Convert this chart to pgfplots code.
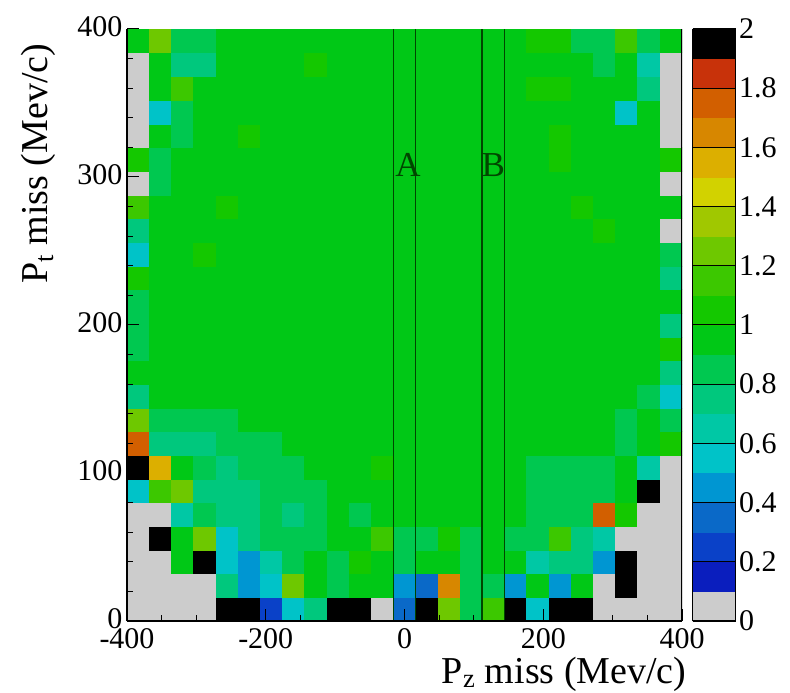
\documentclass[border=0pt]{standalone}
\usepackage{fontspec}
\setmainfont{Liberation Serif}
\usepackage{pgfplots}
\pgfplotsset{compat=1.18}
\definecolor{abline}{RGB}{0,70,0}
\newcommand{\tickfont}{\fontsize{30bp}{32bp}\selectfont}
\newcommand{\titlefont}{\fontsize{38bp}{42bp}\selectfont}
\begin{document}
\begin{tikzpicture}
\path[use as bounding box] (0,0) rectangle (790bp,693bp);
\begin{axis}[
  at={(127bp,72bp)}, anchor=south west,
  scale only axis, width=555bp, height=592bp,
  xmin=-400, xmax=400, ymin=0, ymax=400,
  axis x line*=bottom, axis y line*=left,
  axis line style={-, line width=1.5bp},
  xtick={-400,-200,0,200,400}, xticklabels={-400,-200,0,200,400},
  minor xtick={-350,-300,-250,-150,-100,-50,50,100,150,250,300,350},
  ytick={0,100,200,300,400}, yticklabels={0,100,200,300,400},
  minor ytick={20,40,60,80,120,140,160,180,220,240,260,280,320,340,360,380},
  tick align=inside, major tick length=12bp, minor tick length=6bp,
  tick style={black, line width=1bp},
  ticklabel style={font=\tickfont},
  xticklabel style={yshift=-4bp},
  yticklabel style={xshift=-1bp, yshift=2bp},
  xlabel={P\textsubscript{z} miss (Mev/c)},
  ylabel={P\textsubscript{t} miss (Mev/c)},
  label style={font=\titlefont},
  xlabel style={at={(axis description cs:1.0144,-0.1064)}, anchor=base east},
  ylabel style={at={(axis description cs:-0.144,0.981)}, anchor=base east},
  colormap={rootpal}{
    rgb255=(204,204,204) rgb255=(10,30,190) rgb255=(10,65,200) rgb255=(10,105,200)
    rgb255=(0,150,210) rgb255=(0,195,200) rgb255=(0,200,165) rgb255=(0,200,125)
    rgb255=(0,200,80) rgb255=(0,200,22) rgb255=(20,200,0) rgb255=(60,200,0)
    rgb255=(110,200,0) rgb255=(160,200,0) rgb255=(210,210,0) rgb255=(220,175,0)
    rgb255=(215,135,0) rgb255=(210,95,0) rgb255=(200,50,10) rgb255=(0,0,0)},
  colormap access=piecewise constant,
  point meta min=0, point meta max=2,
  colorbar,
  colorbar style={
    at={(parent axis.south east)}, anchor=south west, xshift=2bp,
    width=43bp,
    ytick={0,0.2,0.4,0.6,0.8,1,1.2,1.4,1.6,1.8,2},
    yticklabels={0,0.2,0.4,0.6,0.8,1,1.2,1.4,1.6,1.8,2},
    yticklabel style={font=\tickfont},
    major tick length=0pt,
    ymajorgrids, major grid style={black, line width=1bp},
    axis on top,
  },
  axis on top,
]
\addplot[matrix plot*, mesh/cols=25, mesh/rows=25, point meta=explicit] coordinates {
(-384,8)[0] (-352,8)[0] (-320,8)[0] (-288,8)[0] (-256,8)[2.5] (-224,8)[2.5] (-192,8)[0.25] (-160,8)[0.55] (-128,8)[0.75] (-96,8)[2.5] (-64,8)[2.5] (-32,8)[0] (0,8)[0.35] (32,8)[2.5] (64,8)[1.25] (96,8)[0.85] (128,8)[1.15] (160,8)[2.5] (192,8)[0.55] (224,8)[2.5] (256,8)[2.5] (288,8)[0] (320,8)[0] (352,8)[0] (384,8)[0]
(-384,24)[0] (-352,24)[0] (-320,24)[0] (-288,24)[0] (-256,24)[0.75] (-224,24)[0.45] (-192,24)[0.55] (-160,24)[1.25] (-128,24)[0.95] (-96,24)[0.85] (-64,24)[0.95] (-32,24)[0.95] (0,24)[0.45] (32,24)[0.35] (64,24)[1.65] (96,24)[0.85] (128,24)[0.85] (160,24)[0.45] (192,24)[0.95] (224,24)[0.45] (256,24)[0.95] (288,24)[0] (320,24)[2.5] (352,24)[0] (384,24)[0]
(-384,40)[0] (-352,40)[0] (-320,40)[0.95] (-288,40)[2.5] (-256,40)[0.55] (-224,40)[0.45] (-192,40)[0.65] (-160,40)[0.85] (-128,40)[0.95] (-96,40)[0.85] (-64,40)[1.05] (-32,40)[0.95] (0,40)[0.85] (32,40)[0.95] (64,40)[0.95] (96,40)[0.85] (128,40)[0.95] (160,40)[0.95] (192,40)[0.65] (224,40)[0.75] (256,40)[0.75] (288,40)[0.45] (320,40)[2.5] (352,40)[0] (384,40)[0]
(-384,56)[0] (-352,56)[2.5] (-320,56)[0.95] (-288,56)[1.25] (-256,56)[0.55] (-224,56)[0.75] (-192,56)[0.85] (-160,56)[0.85] (-128,56)[0.85] (-96,56)[0.95] (-64,56)[0.95] (-32,56)[1.15] (0,56)[0.85] (32,56)[0.85] (64,56)[1.05] (96,56)[0.85] (128,56)[0.95] (160,56)[0.85] (192,56)[0.85] (224,56)[1.15] (256,56)[0.75] (288,56)[0.65] (320,56)[0] (352,56)[0] (384,56)[0]
(-384,72)[0] (-352,72)[0] (-320,72)[0.65] (-288,72)[0.85] (-256,72)[0.75] (-224,72)[0.75] (-192,72)[0.85] (-160,72)[0.75] (-128,72)[0.85] (-96,72)[0.95] (-64,72)[0.85] (-32,72)[0.95] (0,72)[0.95] (32,72)[0.95] (64,72)[0.95] (96,72)[0.95] (128,72)[0.95] (160,72)[0.95] (192,72)[0.85] (224,72)[0.85] (256,72)[0.85] (288,72)[1.75] (320,72)[1.05] (352,72)[0] (384,72)[0]
(-384,88)[0.55] (-352,88)[1.15] (-320,88)[1.25] (-288,88)[0.75] (-256,88)[0.75] (-224,88)[0.75] (-192,88)[0.85] (-160,88)[0.85] (-128,88)[0.85] (-96,88)[0.95] (-64,88)[0.95] (-32,88)[0.95] (0,88)[0.95] (32,88)[0.95] (64,88)[0.95] (96,88)[0.95] (128,88)[0.95] (160,88)[0.95] (192,88)[0.85] (224,88)[0.85] (256,88)[0.85] (288,88)[0.85] (320,88)[0.95] (352,88)[2.5] (384,88)[0]
(-384,104)[2.5] (-352,104)[1.55] (-320,104)[0.95] (-288,104)[0.85] (-256,104)[0.75] (-224,104)[0.85] (-192,104)[0.85] (-160,104)[0.85] (-128,104)[0.95] (-96,104)[0.95] (-64,104)[0.95] (-32,104)[1.05] (0,104)[0.95] (32,104)[0.95] (64,104)[0.95] (96,104)[0.95] (128,104)[0.95] (160,104)[0.95] (192,104)[0.85] (224,104)[0.85] (256,104)[0.85] (288,104)[0.85] (320,104)[0.95] (352,104)[0.65] (384,104)[0]
(-384,120)[1.75] (-352,120)[0.75] (-320,120)[0.75] (-288,120)[0.75] (-256,120)[0.85] (-224,120)[0.85] (-192,120)[0.85] (-160,120)[0.95] (-128,120)[0.95] (-96,120)[0.95] (-64,120)[0.95] (-32,120)[0.95] (0,120)[0.95] (32,120)[0.95] (64,120)[0.95] (96,120)[0.95] (128,120)[0.95] (160,120)[0.95] (192,120)[0.95] (224,120)[0.95] (256,120)[0.95] (288,120)[0.95] (320,120)[0.85] (352,120)[0.95] (384,120)[1.05]
(-384,136)[1.25] (-352,136)[0.85] (-320,136)[0.85] (-288,136)[0.85] (-256,136)[0.85] (-224,136)[0.95] (-192,136)[0.95] (-160,136)[0.95] (-128,136)[0.95] (-96,136)[0.95] (-64,136)[0.95] (-32,136)[0.95] (0,136)[0.95] (32,136)[0.95] (64,136)[0.95] (96,136)[0.95] (128,136)[0.95] (160,136)[0.95] (192,136)[0.95] (224,136)[0.95] (256,136)[0.95] (288,136)[0.95] (320,136)[0.85] (352,136)[0.95] (384,136)[0.85]
(-384,152)[0.75] (-352,152)[0.95] (-320,152)[0.95] (-288,152)[0.95] (-256,152)[0.95] (-224,152)[0.95] (-192,152)[0.95] (-160,152)[0.95] (-128,152)[0.95] (-96,152)[0.95] (-64,152)[0.95] (-32,152)[0.95] (0,152)[0.95] (32,152)[0.95] (64,152)[0.95] (96,152)[0.95] (128,152)[0.95] (160,152)[0.95] (192,152)[0.95] (224,152)[0.95] (256,152)[0.95] (288,152)[0.95] (320,152)[0.95] (352,152)[0.85] (384,152)[0.55]
(-384,168)[0.95] (-352,168)[0.95] (-320,168)[0.95] (-288,168)[0.95] (-256,168)[0.95] (-224,168)[0.95] (-192,168)[0.95] (-160,168)[0.95] (-128,168)[0.95] (-96,168)[0.95] (-64,168)[0.95] (-32,168)[0.95] (0,168)[0.95] (32,168)[0.95] (64,168)[0.95] (96,168)[0.95] (128,168)[0.95] (160,168)[0.95] (192,168)[0.95] (224,168)[0.95] (256,168)[0.95] (288,168)[0.95] (320,168)[0.95] (352,168)[0.95] (384,168)[0.75]
(-384,184)[0.85] (-352,184)[0.95] (-320,184)[0.95] (-288,184)[0.95] (-256,184)[0.95] (-224,184)[0.95] (-192,184)[0.95] (-160,184)[0.95] (-128,184)[0.95] (-96,184)[0.95] (-64,184)[0.95] (-32,184)[0.95] (0,184)[0.95] (32,184)[0.95] (64,184)[0.95] (96,184)[0.95] (128,184)[0.95] (160,184)[0.95] (192,184)[0.95] (224,184)[0.95] (256,184)[0.95] (288,184)[0.95] (320,184)[0.95] (352,184)[0.95] (384,184)[1.05]
(-384,200)[0.85] (-352,200)[0.95] (-320,200)[0.95] (-288,200)[0.95] (-256,200)[0.95] (-224,200)[0.95] (-192,200)[0.95] (-160,200)[0.95] (-128,200)[0.95] (-96,200)[0.95] (-64,200)[0.95] (-32,200)[0.95] (0,200)[0.95] (32,200)[0.95] (64,200)[0.95] (96,200)[0.95] (128,200)[0.95] (160,200)[0.95] (192,200)[0.95] (224,200)[0.95] (256,200)[0.95] (288,200)[0.95] (320,200)[0.95] (352,200)[0.95] (384,200)[0.75]
(-384,216)[0.85] (-352,216)[0.95] (-320,216)[0.95] (-288,216)[0.95] (-256,216)[0.95] (-224,216)[0.95] (-192,216)[0.95] (-160,216)[0.95] (-128,216)[0.95] (-96,216)[0.95] (-64,216)[0.95] (-32,216)[0.95] (0,216)[0.95] (32,216)[0.95] (64,216)[0.95] (96,216)[0.95] (128,216)[0.95] (160,216)[0.95] (192,216)[0.95] (224,216)[0.95] (256,216)[0.95] (288,216)[0.95] (320,216)[0.95] (352,216)[0.95] (384,216)[0.95]
(-384,232)[1.05] (-352,232)[0.95] (-320,232)[0.95] (-288,232)[0.95] (-256,232)[0.95] (-224,232)[0.95] (-192,232)[0.95] (-160,232)[0.95] (-128,232)[0.95] (-96,232)[0.95] (-64,232)[0.95] (-32,232)[0.95] (0,232)[0.95] (32,232)[0.95] (64,232)[0.95] (96,232)[0.95] (128,232)[0.95] (160,232)[0.95] (192,232)[0.95] (224,232)[0.95] (256,232)[0.95] (288,232)[0.95] (320,232)[0.95] (352,232)[0.95] (384,232)[0.75]
(-384,248)[0.55] (-352,248)[0.95] (-320,248)[0.95] (-288,248)[1.05] (-256,248)[0.95] (-224,248)[0.95] (-192,248)[0.95] (-160,248)[0.95] (-128,248)[0.95] (-96,248)[0.95] (-64,248)[0.95] (-32,248)[0.95] (0,248)[0.95] (32,248)[0.95] (64,248)[0.95] (96,248)[0.95] (128,248)[0.95] (160,248)[0.95] (192,248)[0.95] (224,248)[0.95] (256,248)[0.95] (288,248)[0.95] (320,248)[0.95] (352,248)[0.95] (384,248)[0.85]
(-384,264)[0.75] (-352,264)[0.95] (-320,264)[0.95] (-288,264)[0.95] (-256,264)[0.95] (-224,264)[0.95] (-192,264)[0.95] (-160,264)[0.95] (-128,264)[0.95] (-96,264)[0.95] (-64,264)[0.95] (-32,264)[0.95] (0,264)[0.95] (32,264)[0.95] (64,264)[0.95] (96,264)[0.95] (128,264)[0.95] (160,264)[0.95] (192,264)[0.95] (224,264)[0.95] (256,264)[0.95] (288,264)[1.05] (320,264)[0.95] (352,264)[0.95] (384,264)[0]
(-384,280)[1.15] (-352,280)[0.95] (-320,280)[0.95] (-288,280)[0.95] (-256,280)[1.05] (-224,280)[0.95] (-192,280)[0.95] (-160,280)[0.95] (-128,280)[0.95] (-96,280)[0.95] (-64,280)[0.95] (-32,280)[0.95] (0,280)[0.95] (32,280)[0.95] (64,280)[0.95] (96,280)[0.95] (128,280)[0.95] (160,280)[0.95] (192,280)[0.95] (224,280)[0.95] (256,280)[1.05] (288,280)[0.95] (320,280)[0.95] (352,280)[0.95] (384,280)[0.95]
(-384,296)[0] (-352,296)[0.85] (-320,296)[0.95] (-288,296)[0.95] (-256,296)[0.95] (-224,296)[0.95] (-192,296)[0.95] (-160,296)[0.95] (-128,296)[0.95] (-96,296)[0.95] (-64,296)[0.95] (-32,296)[0.95] (0,296)[0.95] (32,296)[0.95] (64,296)[0.95] (96,296)[0.95] (128,296)[0.95] (160,296)[0.95] (192,296)[0.95] (224,296)[0.95] (256,296)[0.95] (288,296)[0.95] (320,296)[0.95] (352,296)[0.95] (384,296)[0]
(-384,312)[1.05] (-352,312)[0.85] (-320,312)[0.95] (-288,312)[0.95] (-256,312)[0.95] (-224,312)[0.95] (-192,312)[0.95] (-160,312)[0.95] (-128,312)[0.95] (-96,312)[0.95] (-64,312)[0.95] (-32,312)[0.95] (0,312)[0.95] (32,312)[0.95] (64,312)[0.95] (96,312)[0.95] (128,312)[0.95] (160,312)[0.95] (192,312)[0.95] (224,312)[1.05] (256,312)[0.95] (288,312)[0.95] (320,312)[0.95] (352,312)[0.95] (384,312)[1.05]
(-384,328)[0] (-352,328)[0.95] (-320,328)[0.85] (-288,328)[0.95] (-256,328)[0.95] (-224,328)[1.05] (-192,328)[0.95] (-160,328)[0.95] (-128,328)[0.95] (-96,328)[0.95] (-64,328)[0.95] (-32,328)[0.95] (0,328)[0.95] (32,328)[0.95] (64,328)[0.95] (96,328)[0.95] (128,328)[0.95] (160,328)[0.95] (192,328)[0.95] (224,328)[1.05] (256,328)[0.95] (288,328)[0.95] (320,328)[0.95] (352,328)[0.95] (384,328)[0]
(-384,344)[0] (-352,344)[0.55] (-320,344)[0.85] (-288,344)[0.95] (-256,344)[0.95] (-224,344)[0.95] (-192,344)[0.95] (-160,344)[0.95] (-128,344)[0.95] (-96,344)[0.95] (-64,344)[0.95] (-32,344)[0.95] (0,344)[0.95] (32,344)[0.95] (64,344)[0.95] (96,344)[0.95] (128,344)[0.95] (160,344)[0.95] (192,344)[0.95] (224,344)[0.95] (256,344)[0.95] (288,344)[0.95] (320,344)[0.55] (352,344)[0.95] (384,344)[0]
(-384,360)[0] (-352,360)[0.95] (-320,360)[1.15] (-288,360)[0.95] (-256,360)[0.95] (-224,360)[0.95] (-192,360)[0.95] (-160,360)[0.95] (-128,360)[0.95] (-96,360)[0.95] (-64,360)[0.95] (-32,360)[0.95] (0,360)[0.95] (32,360)[0.95] (64,360)[0.95] (96,360)[0.95] (128,360)[0.95] (160,360)[0.95] (192,360)[1.05] (224,360)[1.05] (256,360)[0.95] (288,360)[0.95] (320,360)[0.95] (352,360)[0.75] (384,360)[0]
(-384,376)[0] (-352,376)[0.95] (-320,376)[0.75] (-288,376)[0.75] (-256,376)[0.95] (-224,376)[0.95] (-192,376)[0.95] (-160,376)[0.95] (-128,376)[1.05] (-96,376)[0.95] (-64,376)[0.95] (-32,376)[0.95] (0,376)[0.95] (32,376)[0.95] (64,376)[0.95] (96,376)[0.95] (128,376)[0.95] (160,376)[0.95] (192,376)[0.95] (224,376)[0.95] (256,376)[0.95] (288,376)[0.85] (320,376)[0.95] (352,376)[0.65] (384,376)[0]
(-384,392)[0.95] (-352,392)[1.25] (-320,392)[0.85] (-288,392)[0.85] (-256,392)[0.95] (-224,392)[0.95] (-192,392)[0.95] (-160,392)[0.95] (-128,392)[0.95] (-96,392)[0.95] (-64,392)[0.95] (-32,392)[0.95] (0,392)[0.95] (32,392)[0.95] (64,392)[0.95] (96,392)[0.95] (128,392)[0.95] (160,392)[0.95] (192,392)[1.05] (224,392)[1.05] (256,392)[0.85] (288,392)[0.85] (320,392)[1.15] (352,392)[0.85] (384,392)[0.95]
};
\addplot[abline, line width=1.6bp, no marks] coordinates {(-16,0) (-16,400)};
\addplot[abline, line width=1.6bp, no marks] coordinates {(16,0) (16,400)};
\addplot[abline, line width=1.6bp, no marks] coordinates {(112,0) (112,400)};
\addplot[abline, line width=1.6bp, no marks] coordinates {(144,0) (144,400)};
\node[font=\fontsize{35bp}{38bp}\selectfont, text=abline] at (axis cs:5,308) {A};
\node[font=\fontsize{35bp}{38bp}\selectfont, text=abline] at (axis cs:128,308) {B};
\draw[black, line width=1.2bp] (rel axis cs:1,0) -- (rel axis cs:1,1);
\end{axis}
\end{tikzpicture}
\end{document}
